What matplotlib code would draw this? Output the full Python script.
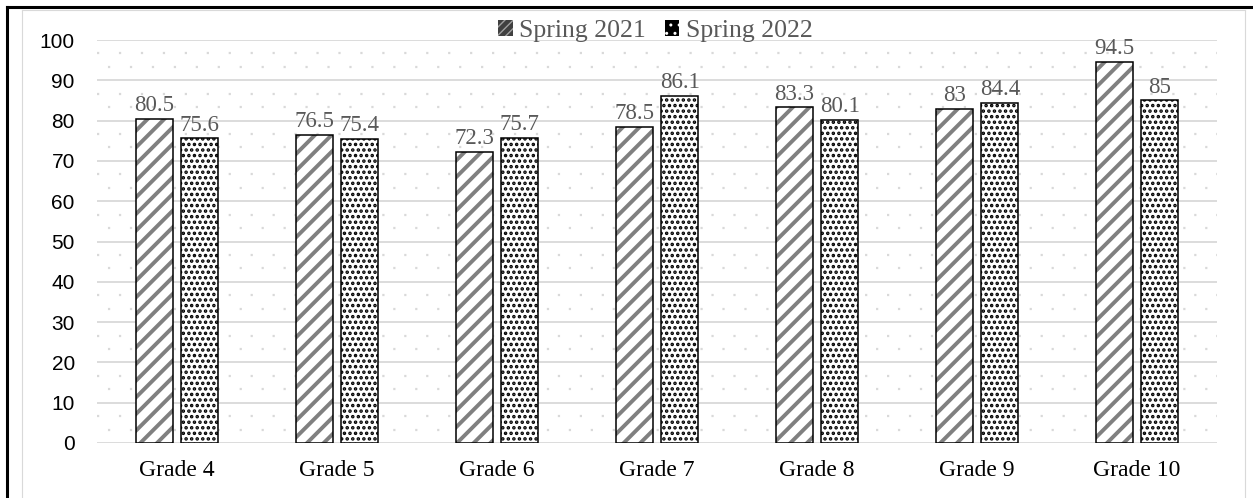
import matplotlib
matplotlib.use("Agg")
import matplotlib.pyplot as plt
import numpy as np
from matplotlib.lines import Line2D
from matplotlib.patches import Patch

grades = ["Grade 4", "Grade 5", "Grade 6", "Grade 7", "Grade 8", "Grade 9", "Grade 10"]
spring_2021 = [80.5, 76.5, 72.3, 78.5, 83.3, 83, 94.5]
spring_2022 = [75.6, 75.4, 75.7, 86.1, 80.1, 84.4, 85]
series_names = ["Spring 2021", "Spring 2022"]
y_ticks = [0, 10, 20, 30, 40, 50, 60, 70, 80, 90, 100]

SERIF = "Liberation Serif"
SANS = "Liberation Sans"
GRID = "#d9d9d9"
LABEL_GRAY = "#595959"

plt.rcParams["lines.scale_dashes"] = False

fig = plt.figure(figsize=(12.53, 4.98), dpi=100)
ax = fig.add_axes([97 / 1253, 1 - 443 / 498, 1120 / 1253, 403 / 498])

x = np.arange(len(grades))
w = 0.23
off = 0.143


def make_bars(xs, vals, hatch, hcolor, hlw):
    with plt.rc_context({"hatch.linewidth": hlw, "hatch.color": hcolor}):
        bars = ax.bar(xs, vals, w, color="white", edgecolor=hcolor,
                      hatch=hatch, linewidth=0, zorder=3)
        for b in bars:
            if hasattr(b, "set_hatch_linewidth"):
                b.set_hatch_linewidth(hlw)
    ax.bar(xs, vals, w, fill=False, edgecolor="black", linewidth=1.1, zorder=4)
    return bars


b1 = make_bars(x - off, spring_2021, "//", "#808080", 2.8)
b2 = make_bars(x + off, spring_2022, "...", "black", 1.7)

for xs, vals in [(x - off, spring_2021), (x + off, spring_2022)]:
    for xi, v in zip(xs, vals):
        ax.annotate(f"{v:g}", (xi, v), xytext=(0, 2), textcoords="offset points",
                    ha="center", va="bottom", fontsize=16.5, family=SERIF,
                    color=LABEL_GRAY, zorder=5, annotation_clip=False)

ax.set_xlim(-0.5, len(grades) - 0.5)
ax.set_ylim(0, 100)
ax.set_yticks(y_ticks)
ax.set_yticklabels([str(t) for t in y_ticks], family=SANS, fontsize=15)
ax.set_xticks(x)
ax.set_xticklabels(grades, family=SERIF, fontsize=17)
ax.tick_params(axis="both", length=0)
ax.tick_params(axis="y", pad=16)
ax.tick_params(axis="x", pad=12)
for s in ax.spines.values():
    s.set_visible(False)

# major grid lines
for t in y_ticks:
    ax.axhline(t, color=GRID, linewidth=1.3, zorder=1)
# dotted background rows between grid lines
for t in y_ticks[:-1]:
    ax.axhline(t + 10 * 2 / 3, color=GRID, linewidth=1.6,
               linestyle=(0, (1.6, 14.2)), zorder=0.5)
    ax.axhline(t + 10 / 3, color=GRID, linewidth=1.6,
               linestyle=(7.9, (1.6, 14.2)), zorder=0.5)

# legend swatches (small squares like the original)
with plt.rc_context({"hatch.linewidth": 1.0}):
    h1 = Patch(facecolor="#404040", edgecolor="#a0a0a0", hatch="////", linewidth=0)
    h2 = Patch(facecolor="black", edgecolor="white", hatch="..", linewidth=0)
leg = ax.legend([h1, h2], series_names, loc="center",
                bbox_to_anchor=(0.523, 1 - 31 / 498), bbox_transform=fig.transFigure,
                frameon=False, ncol=2, prop={"family": SERIF, "size": 18.5},
                handlelength=0.55, handleheight=0.55, handletextpad=0.25,
                columnspacing=0.75, borderpad=0)
for t in leg.get_texts():
    t.set_color(LABEL_GRAY)

# chart frame
fig.add_artist(Line2D([7 / 1253, 7 / 1253], [0, 1 - 7 / 498], color="black",
                      linewidth=2.2, transform=fig.transFigure))
fig.add_artist(Line2D([7 / 1253, 1], [1 - 7 / 498, 1 - 7 / 498], color="black",
                      linewidth=2.2, transform=fig.transFigure))
fig.add_artist(Line2D([22 / 1253, 22 / 1253], [0, 1 - 10 / 498], color=GRID,
                      linewidth=0.8, transform=fig.transFigure))
fig.add_artist(Line2D([22 / 1253, 1245 / 1253], [1 - 10 / 498, 1 - 10 / 498],
                      color=GRID, linewidth=0.8, transform=fig.transFigure))
fig.add_artist(Line2D([1245 / 1253, 1245 / 1253], [0, 1 - 10 / 498], color=GRID,
                      linewidth=0.8, transform=fig.transFigure))

fig.savefig("out.png", dpi=100)
